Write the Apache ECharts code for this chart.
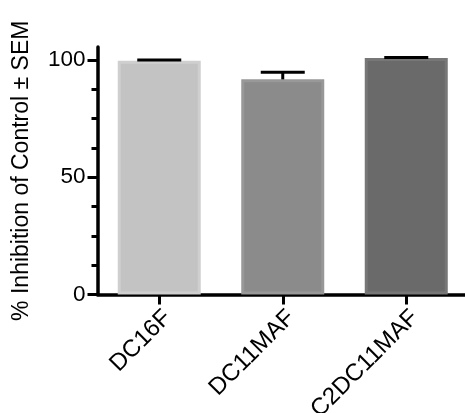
<!DOCTYPE html>
<html>
<head>
<meta charset="utf-8">
<script src="https://cdn.jsdelivr.net/npm/echarts@6/dist/echarts.min.js"></script>
<style>
html,body{margin:0;padding:0;background:#fff;}
#chart{width:465px;height:413px;}
</style>
</head>
<body>
<div id="chart"></div>
<script>
const categories = ['DC16F', 'DC11MAF', 'C2DC11MAF'];
const values = [99.6, 91.7, 100.8];
const sem = [0.4, 3.0, 0.2];
const barColors = ['#c3c3c3', '#8b8b8b', '#6a6a6a'];
const barEdgeColors = ['#cfcfcf', '#989898', '#777777'];
const majorTicks = [0, 50, 100];
const minorTicks = [12.5, 25, 37.5, 62.5, 75, 87.5];
const yTitle = '% Inhibition of Control \u00B1 SEM';

const FONT = "'Liberation Sans', Arial, Helvetica, sans-serif";
const chart = echarts.init(document.getElementById('chart'), null, {renderer: 'canvas'});

const option = {
  animation: false,
  backgroundColor: '#ffffff',
  grid: {left: 97.5, right: -3, top: 47, bottom: 118.5, containLabel: false, outerBoundsMode: 'none'},
  xAxis: {
    type: 'category',
    data: categories,
    axisLine: {show: true, lineStyle: {color: '#000', width: 3.5}},
    axisTick: {show: true, alignWithLabel: true, length: 10, lineStyle: {color: '#000', width: 3}},
    axisLabel: {
      rotate: 45, interval: 0, margin: 11,
      align: 'right', verticalAlign: 'top',
      color: '#000', fontSize: 24, fontFamily: FONT
    },
    splitLine: {show: false}
  },
  yAxis: [{
    type: 'value', min: 0, max: 105.5,
    name: yTitle, nameLocation: 'middle', nameGap: 64,
    nameTextStyle: {color: '#000', fontSize: 23, fontFamily: FONT},
    axisLine: {show: true, lineStyle: {color: '#000', width: 3.5}},
    axisTick: {show: true, length: 10, customValues: majorTicks, lineStyle: {color: '#000', width: 3}},
    axisLabel: {customValues: majorTicks, margin: 12, color: '#000', fontSize: 22.5, fontFamily: FONT},
    splitLine: {show: false}
  }, {
    type: 'value', min: 0, max: 105.5, position: 'left', offset: 0,
    axisLine: {show: false},
    axisTick: {show: true, length: 6, customValues: minorTicks, lineStyle: {color: '#000', width: 3}},
    axisLabel: {show: false},
    splitLine: {show: false}
  }],
  series: [{
    type: 'bar',
    data: values.map((v, i) => ({
      value: v,
      itemStyle: {color: barColors[i], borderColor: barEdgeColors[i], borderWidth: 3}
    })),
    barWidth: 83,
    z: 2
  }, {
    type: 'custom',
    z: 5,
    data: values.map((v, i) => [i, v, sem[i]]),
    renderItem: function (params, api) {
      const x = api.value(0), v = api.value(1), e = api.value(2);
      const base = api.coord([x, v]);
      const top = api.coord([x, v + e]);
      const half = 22;
      return {
        type: 'group',
        children: [{
          type: 'line',
          shape: {x1: base[0], y1: base[1], x2: top[0], y2: top[1]},
          style: {stroke: '#000', lineWidth: 3}
        }, {
          type: 'line',
          shape: {x1: top[0] - half, y1: top[1], x2: top[0] + half, y2: top[1]},
          style: {stroke: '#000', lineWidth: 3}
        }]
      };
    }
  }]
};
chart.setOption(option);
</script>
</body>
</html>
